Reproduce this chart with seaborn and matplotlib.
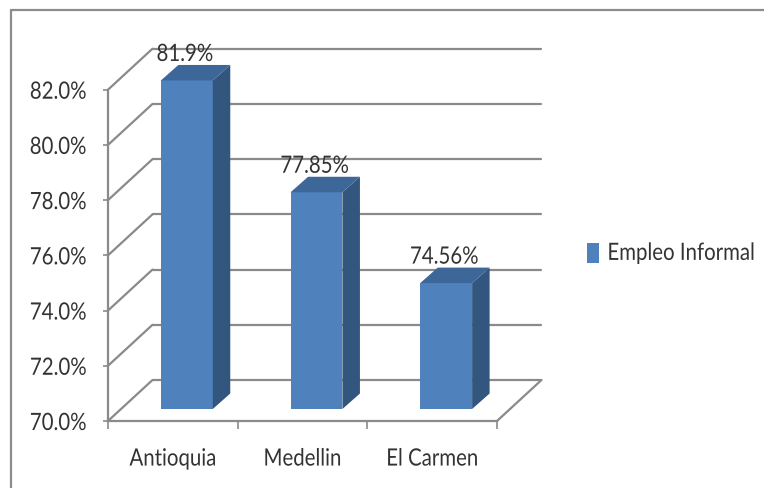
import matplotlib
matplotlib.use("Agg")
import matplotlib.pyplot as plt
from matplotlib.lines import Line2D
from matplotlib.patches import Polygon, Patch
from matplotlib.patheffects import AbstractPathEffect
from matplotlib.transforms import Affine2D, IdentityTransform
import numpy as np
import pandas as pd
import seaborn as sns

# ---- data -------------------------------------------------------------
categories = ["Antioquia", "Medellin", "El Carmen"]
informal = [81.9, 77.85, 74.56]
series_name = "Empleo Informal"
y_ticks = [70, 72, 74, 76, 78, 80, 82]
BASE = 70

# ---- style ------------------------------------------------------------
sns.set_theme(style="white")
plt.rcParams["font.family"] = ["Lato", "DejaVu Sans"]
FS = 14.7

TXT = "#333333"
GRID = "#8a8a8a"
FRONT, SIDE, TOP = "#4F81BD", "#33567F", "#3D6699"


class TallGlyphs(AbstractPathEffect):
    """Draw text glyphs stretched vertically about their baseline."""

    def __init__(self, sy, dy=0.0):
        super().__init__()
        self.sy = sy
        self.dy = dy

    def draw_path(self, renderer, gc, tpath, affine, rgbFace=None):
        tr = Affine2D().scale(1.0, self.sy) + affine + Affine2D().translate(0, self.dy)
        renderer.draw_path(gc, tpath, tr, rgbFace)


tall = [TallGlyphs(1.17)]
tall_low = [TallGlyphs(1.17, dy=-2)]

W, H, DPI = 764, 489, 100
fig = plt.figure(figsize=(W / DPI, H / DPI), dpi=DPI)
ax = fig.add_axes([108 / W, 67 / H, (497 - 108) / W, (398.3 - 67) / H])

df = pd.DataFrame({"region": categories, "pct": informal})
sns.barplot(data=df, x="region", y="pct", width=0.4, color=FRONT,
            saturation=1, ax=ax, zorder=3)
ax.set_xlim(-0.5, 2.5)
ax.set_ylim(BASE, y_ticks[-1])
ax.set_xlabel("")
ax.set_ylabel("")

# oblique projection offsets in display pixels (x right, y up)
BAR_OFF = np.array([14.0, 12.0])     # bar plane behind the front axis
DEPTH = np.array([17.5, 15.5])       # thickness of each column
BACK = np.array([44.5, 41.0])        # back wall


def disp(x, y):
    return ax.transData.transform((x, y))


ident = IdentityTransform()

# back wall gridlines, left wall diagonals and floor
for t in y_ticks:
    p0, p1 = disp(-0.5, t), disp(2.5, t)
    ax.add_line(Line2D([p0[0] + BACK[0], p1[0] + BACK[0]],
                       [p0[1] + BACK[1], p1[1] + BACK[1]],
                       transform=ident, color=GRID, lw=1.6, clip_on=False, zorder=1))
    ax.add_line(Line2D([p0[0], p0[0] + BACK[0]], [p0[1], p0[1] + BACK[1]],
                       transform=ident, color=GRID, lw=1.6, clip_on=False, zorder=1))
pr = disp(2.5, BASE)
ax.add_line(Line2D([pr[0], pr[0] + BACK[0]], [pr[1], pr[1] + BACK[1]],
                   transform=ident, color=GRID, lw=1.6, clip_on=False, zorder=1))

# columns: front faces come from seaborn, side and top faces follow them
shift = Affine2D().translate(*BAR_OFF)
for p, v in zip(ax.patches, informal):
    p.set_y(BASE)
    p.set_height(v - BASE)
    p.set_transform(ax.transData + shift)
    p.set_clip_on(False)
    p.set_linewidth(0)
    xl, xr = p.get_x(), p.get_x() + p.get_width()
    a = disp(xr, BASE) + BAR_OFF
    b = disp(xr, v) + BAR_OFF
    ax.add_patch(Polygon([a, b, b + DEPTH, a + DEPTH], closed=True,
                         transform=ident, facecolor=SIDE, lw=0,
                         clip_on=False, zorder=3))
    c = disp(xl, v) + BAR_OFF
    ax.add_patch(Polygon([c, b, b + DEPTH, c + DEPTH], closed=True,
                         transform=ident, facecolor=TOP, lw=0,
                         clip_on=False, zorder=3))

# value labels
for i, v in enumerate(informal):
    ax.annotate(f"{v:g}%", xy=(i, v), xytext=(12, 37),
                textcoords="offset pixels", ha="center", va="center",
                fontsize=FS, color=TXT, annotation_clip=False, zorder=5,
                path_effects=tall)

# axes
for s in ("top", "right"):
    ax.spines[s].set_visible(False)
for s in ("left", "bottom"):
    ax.spines[s].set_color(GRID)
    ax.spines[s].set_linewidth(1.6)
ax.set_yticks(y_ticks, [f"{t:.1f}%" for t in y_ticks])
ax.tick_params(axis="y", left=True, direction="out", length=3.6, width=1.2,
               color=GRID, pad=12, labelsize=FS, labelcolor=TXT)
ax.set_xticks(range(len(categories)), categories)
ax.set_xticks([-0.5, 0.5, 1.5, 2.5], minor=True)
ax.tick_params(axis="x", which="major", bottom=False, length=0, pad=22,
               labelsize=FS, labelcolor=TXT)
ax.tick_params(axis="x", which="minor", bottom=True, direction="out",
               length=5.8, width=1.2, color=GRID)
ax.grid(False)
for lab in ax.get_xticklabels():
    lab.set_path_effects(tall)
for lab in ax.get_yticklabels():
    lab.set_path_effects(tall_low)

# legend
leg = fig.legend(handles=[Patch(facecolor=FRONT, lw=0)], labels=[series_name],
                 loc="center left", bbox_to_anchor=(587 / W, 1 - 254 / H),
                 frameon=False, handlelength=0.6, handleheight=1.2,
                 handletextpad=0.4, borderpad=0, borderaxespad=0,
                 fontsize=FS, labelcolor=TXT)
for t in leg.get_texts():
    t.set_path_effects(tall)

# chart area border
fig.add_artist(Line2D([11 / W, 1], [1 - 11 / H, 1 - 11 / H], color="#8c8c8c", lw=1.6))
fig.add_artist(Line2D([11 / W, 11 / W], [0, 1 - 11 / H], color="#8c8c8c", lw=1.6))

fig.savefig("out.png", dpi=DPI)
